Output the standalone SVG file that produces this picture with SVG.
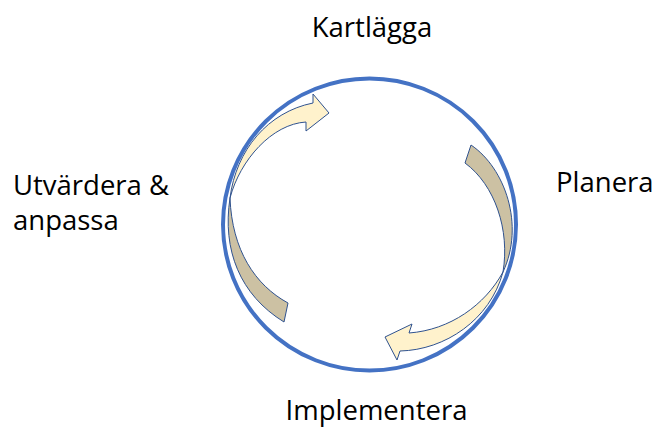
<svg xmlns="http://www.w3.org/2000/svg" width="656" height="428" viewBox="0 0 656 428">
  <style>
    .label { font-family: "Open Sans", "Liberation Sans", sans-serif; font-size: 27.5px; fill: #000000; }
    .ring { fill: none; stroke: #4472C4; stroke-width: 4; }
    .back { fill: #CCC1A3; stroke: #2F528F; stroke-width: 1; stroke-linejoin: miter; }
    .front { fill: #FFF2CC; stroke: #2F528F; stroke-width: 1; stroke-linejoin: miter; }
  </style>
  <rect width="656" height="428" fill="#FFFFFF"/>

  <!-- cycle ring -->
  <g id="ring">
    <ellipse class="ring" cx="369.5" cy="224.5" rx="146.5" ry="146"/>
  </g>

  <!-- curved arrows linking the phases -->
  <g id="connectors">
    <!-- left arrow: from Utvärdera up to Kartlägga -->
    <path class="back" d="M230,198 C222,250 240,295 284,322 L288,303 C255,285 232,250 230,198 Z"/>
    <path class="front" d="M230,198 C236,150 268,112 313,103 L313,94 L329,113 L306,131 L306,122 C272,124 240,160 230,198 Z"/>
    <!-- right arrow: from Planera down to Implementera -->
    <path class="back" d="M465,163 L471,145 C505,168 525,225 503,272 C510,230 495,185 465,163 Z"/>
    <path class="front" d="M503,272 C490,320 445,350 400,351 L397,360 L385,337 L412,324 L409,333 C450,330 485,305 503,272 Z"/>
  </g>

  <g id="kartlagga">
    <text class="label" x="372" y="37" text-anchor="middle">Kartlägga</text>
  </g>
  <g id="planera">
    <text class="label" x="556" y="192">Planera</text>
  </g>
  <g id="implementera">
    <text class="label" x="376.5" y="420" text-anchor="middle">Implementera</text>
  </g>
  <g id="utvardera">
    <text class="label" x="13" y="195">Utvärdera &amp;</text>
    <text class="label" x="13" y="230">anpassa</text>
  </g>
</svg>
